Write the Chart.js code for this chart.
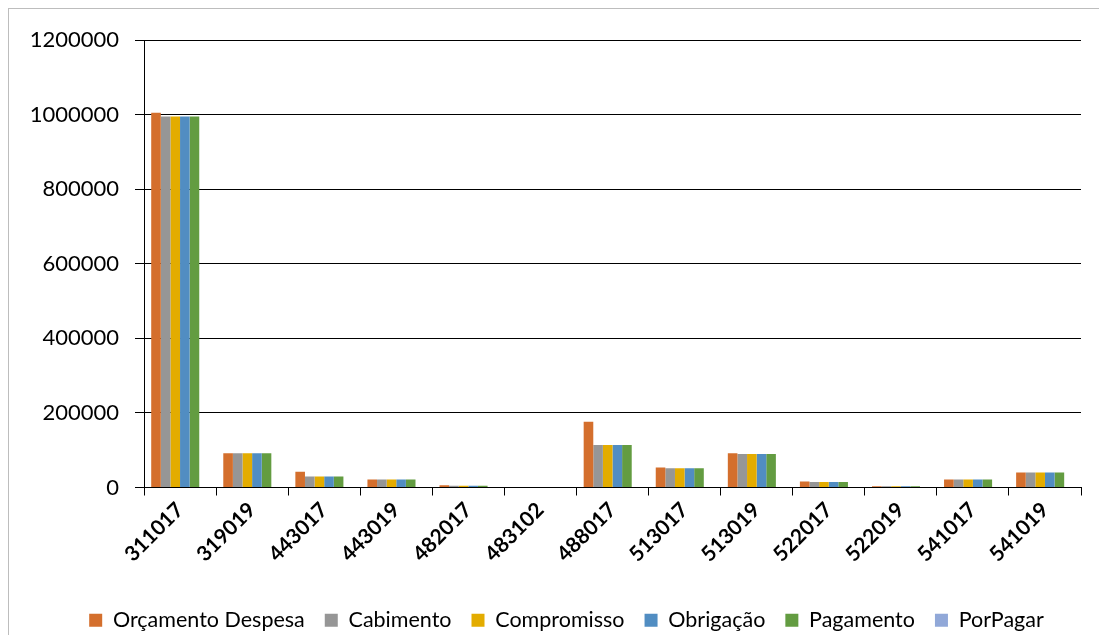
<!DOCTYPE html>
<html>
<head>
<meta charset="utf-8">
<script src="https://cdn.jsdelivr.net/npm/chart.js@4"></script>
<style>
  html, body { margin: 0; padding: 0; background: #fff; overflow: hidden; }
  .frame { position: absolute; left: 8px; top: 8px; width: 1200px; height: 700px; border: 1px solid #bdbdbd; }
  .wrap { position: absolute; left: 0; top: 0; width: 1099px; height: 635px; }
</style>
</head>
<body>
<div class="frame"></div>
<div class="wrap"><canvas id="grafico"></canvas></div>
<script>
// rubricas
const categorias = ['311017', '319019', '443017', '443019', '482017', '483102', '488017',
                    '513017', '513019', '522017', '522019', '541017', '541019'];

const orcamento   = [1005000, 92000, 42000, 21500, 6000, 0, 176000, 53500, 92000, 16000, 3500, 21500, 40000];
const cabimento   = [995000, 92000, 29500, 21500, 5000, 0, 114000, 51500, 89500, 15000, 3500, 21500, 40000];
const compromisso = [995000, 92000, 29500, 21500, 5000, 0, 114000, 51500, 89500, 15000, 3500, 21500, 40000];
const obrigacao   = [995000, 92000, 29500, 21500, 5000, 0, 114000, 51500, 89500, 15000, 3500, 21500, 40000];
const pagamento   = [995000, 92000, 29500, 21500, 5000, 0, 114000, 51500, 89500, 15000, 3500, 21500, 40000];
const porPagar    = [0, 0, 0, 0, 0, 0, 0, 0, 0, 0, 0, 0, 0];

const yTicks = [0, 200000, 400000, 600000, 800000, 1000000, 1200000];

const fonte = "Lato, 'Open Sans', sans-serif";

function serie(label, data, cor) {
  return { label: label, data: data, backgroundColor: cor, borderWidth: 0 };
}

// empurra a legenda um pouco para a direita
const moverLegenda = {
  id: 'moverLegenda',
  afterLayout(chart) {
    chart.legend.left += 26;
    chart.legend.right += 26;
  }
};

const ctx = document.getElementById('grafico').getContext('2d');
new Chart(ctx, {
  type: 'bar',
  data: {
    labels: categorias,
    datasets: [
      serie('Orçamento Despesa', orcamento, '#D46F2D'),
      serie('Cabimento', cabimento, '#969696'),
      serie('Compromisso', compromisso, '#E3AC00'),
      serie('Obrigação', obrigacao, '#518DC2'),
      serie('Pagamento', pagamento, '#639C41'),
      serie('PorPagar', porPagar, '#91A8D8')
    ]
  },
  options: {
    responsive: true,
    maintainAspectRatio: false,
    animation: false,
    datasets: { bar: { categoryPercentage: 0.8, barPercentage: 1.0 } },
    layout: { padding: { top: 40, right: 18, left: 0, bottom: -6 } },
    scales: {
      x: {
        grid: { offset: true, drawOnChartArea: false, color: '#000', tickLength: 8, tickWidth: 1 },
        border: { color: '#000', width: 1 },
        ticks: {
          color: '#000', maxRotation: 45, minRotation: 45, autoSkip: false, padding: 2,
          font: { family: fonte, size: 21, weight: 'bold' }
        },
        afterFit: function (s) { s.height = 102; }
      },
      y: {
        min: 0, max: 1200000,
        afterBuildTicks: function (s) { s.ticks = yTicks.map(v => ({ value: v })); },
        grid: { color: '#000', lineWidth: 1, tickLength: 9 },
        border: { color: '#000', width: 1 },
        ticks: {
          color: '#000', padding: 16,
          font: { family: fonte, size: 22 },
          callback: v => String(v)
        },
        afterFit: function (s) { s.width = 144; }
      }
    },
    plugins: {
      legend: {
        position: 'bottom',
        labels: {
          color: '#000', boxWidth: 13, boxHeight: 13, padding: 20,
          font: { family: fonte, size: 21.5 }
        }
      },
      tooltip: { enabled: false }
    }
  },
  plugins: [moverLegenda]
});
</script>
</body>
</html>
